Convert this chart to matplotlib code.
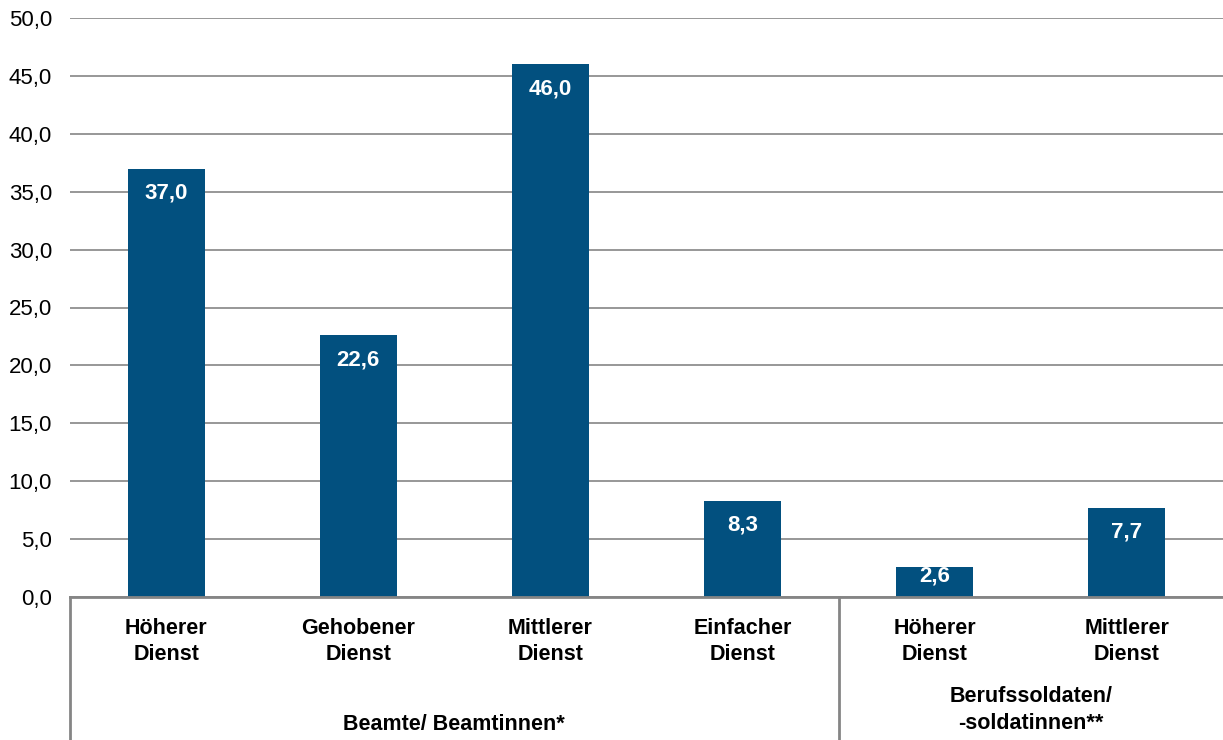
import matplotlib.pyplot as plt
from matplotlib.ticker import FuncFormatter

categories = ["Höherer\nDienst", "Gehobener\nDienst", "Mittlerer\nDienst", "Einfacher\nDienst",
              "Höherer\nDienst", "Mittlerer\nDienst"]
values = [37.0, 22.6, 46.0, 8.3, 2.6, 7.7]
groups = ["Beamte/ Beamtinnen*", "Berufssoldaten/\n-soldatinnen**"]
group_spans = [(0, 3), (4, 5)]

plt.rcParams['font.family'] = ['Liberation Sans', 'DejaVu Sans']

bar_color = "#02507f"
grid_color = "#858585"

fig = plt.figure(figsize=(12.23, 7.4), dpi=100)
ax = fig.add_axes([70 / 1223, 1 - 597 / 740, 1 - 70 / 1223, (597 - 18) / 740])

x = list(range(len(values)))
ax.bar(x, values, width=0.4, color=bar_color, zorder=3)

# value labels inside the bars
for xi, v in zip(x, values):
    y = v - 2.1 if v > 5 else v * 0.7
    ax.text(xi, y, f"{v:.1f}".replace(".", ","), ha="center", va="center",
            color="white", fontsize=16, fontweight="bold", zorder=4)

ax.set_xlim(-0.5, len(values) - 0.5)
ax.set_ylim(0, 50)
ax.set_yticks(range(0, 51, 5))
ax.yaxis.set_major_formatter(FuncFormatter(lambda v, p: f"{v:.1f}".replace(".", ",")))
ax.tick_params(axis="y", length=0, pad=13, labelsize=16)

ax.set_xticks(x)
ax.set_xticklabels(categories, fontsize=15.5, fontweight="bold", linespacing=1.3)
ax.tick_params(axis="x", length=0, pad=15)

ax.grid(axis="y", color=grid_color, linewidth=1.2, zorder=0)
for s in ["top", "right", "left"]:
    ax.spines[s].set_visible(False)
ax.spines["bottom"].set_color(grid_color)
ax.spines["bottom"].set_linewidth(2)
ax.spines["bottom"].set_zorder(5)

# group separators below the axis
bottom = -fig.transFigure.transform((0, 1 - 597 / 740))[1] / ax.bbox.height - 0.01
trans = ax.get_xaxis_transform()
for xs in [-0.5, 3.5]:
    ax.plot([xs, xs], [0, bottom], transform=trans, color=grid_color,
            linewidth=2, clip_on=False)

# group labels
ax.text(sum(group_spans[0]) / 2, -127 / ax.bbox.height, groups[0], transform=trans,
        ha="center", va="center", fontsize=15.5, fontweight="bold")
ax.text(sum(group_spans[1]) / 2, -113 / ax.bbox.height, groups[1], transform=trans,
        ha="center", va="center", fontsize=15.5, fontweight="bold", linespacing=1.4)

fig.savefig("out.png", dpi=100)
